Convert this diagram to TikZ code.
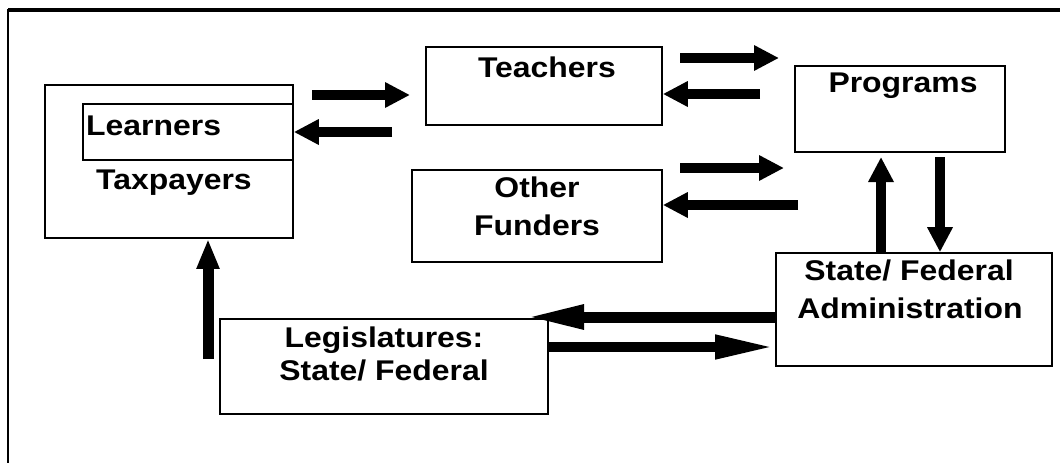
\documentclass[tikz,border=0pt]{standalone}
\usepackage{fontspec}
\setmainfont{Liberation Sans}[FakeStretch=1.12]
\usetikzlibrary{arrows.meta}
\begin{document}
\begin{tikzpicture}[x=1pt,y=-1pt,
  box/.style={draw=black,line width=1.6pt,rectangle,inner sep=0pt,fill=white},
  lbl/.style={inner sep=0pt,font=\fontsize{28.5}{36}\selectfont\bfseries},
  fat/.style={line width=10.5pt,-{Triangle[length=25pt,width=24pt]}},
  longfat/.style={line width=11pt,-{Triangle[length=60pt,width=22pt]}},
  tallfat/.style={line width=11pt,-{Triangle[length=30pt,width=21pt]}}]
\useasboundingbox[fill=white] (0,0) rectangle (1060,463);
% frame (top and left edges)
\draw[line width=4pt] (8,10) -- (1062,10);
\draw[line width=2.5pt] (8,9) -- (8,465);
% boxes
\node[box,minimum width=248pt,minimum height=153pt] (tax) at (169,161.5) {};
\node[box,minimum width=210pt,minimum height=56pt] (learn) at (188,132) {};
\node[box,minimum width=236pt,minimum height=78pt] (teach) at (544,86) {};
\node[box,minimum width=210pt,minimum height=86pt] (prog) at (900,109) {};
\node[box,minimum width=250pt,minimum height=92pt] (of) at (537,216) {};
\node[box,minimum width=328pt,minimum height=95pt] (leg) at (384,366.5) {};
\node[box,minimum width=276pt,minimum height=113pt] (admin) at (914,309.5) {};
% labels
\node[lbl,anchor=base west] (tLearn) at (86,135) {Learners};
\node[lbl,anchor=base west] (tTax) at (96,189) {Taxpayers};
\node[lbl,anchor=base] (tTeach) at (547,77) {Teachers};
\node[lbl,anchor=base] (tProg) at (903,92) {Programs};
\node[lbl,anchor=base] (tOf1) at (537,197) {Other};
\node[lbl,anchor=base] (tOf2) at (537,235) {Funders};
\node[lbl,anchor=base] (tLeg1) at (384,347) {Legislatures:};
\node[lbl,anchor=base] (tLeg2) at (384,380) {State/ Federal};
\node[lbl,anchor=base] (tAd1) at (909,280) {State/ Federal};
\node[lbl,anchor=base] (tAd2) at (910,318) {Administration};
% free arrow ends
\coordinate (a1s) at (312,95);  \coordinate (a1e) at (410,95);
\coordinate (a2s) at (392,132);
\coordinate (a3s) at (680,58);  \coordinate (a3e) at (779,58);
\coordinate (a4s) at (760,94);
\coordinate (a5s) at (680,168); \coordinate (a5e) at (784,168);
\coordinate (a6s) at (798,205);
\coordinate (a7e) at (881,157);
\coordinate (a8s) at (940,157);
\coordinate (a9e) at (524,317);
\coordinate (a11s) at (208,359);
% connectors
\draw[fat] (a1s) -- (a1e);
\draw[fat] (a2s) -- (learn.east);
\draw[fat] (a3s) -- (a3e);
\draw[fat] (a4s) -- (a4s -| teach.east);
\draw[fat] (a5s) -- (a5e);
\draw[fat] (a6s) -- (a6s -| of.east);
\draw[fat] (a7e |- admin.north) -- (a7e);
\draw[fat] (a8s) -- (a8s |- admin.north);
\draw[longfat] (a9e -| admin.west) -- (a9e);
\draw[longfat,line width=10pt] (leg.east |- 0,347) -- (admin.west |- 0,347);
\draw[tallfat] (a11s) -- (a11s |- tax.south);
\end{tikzpicture}
\end{document}
